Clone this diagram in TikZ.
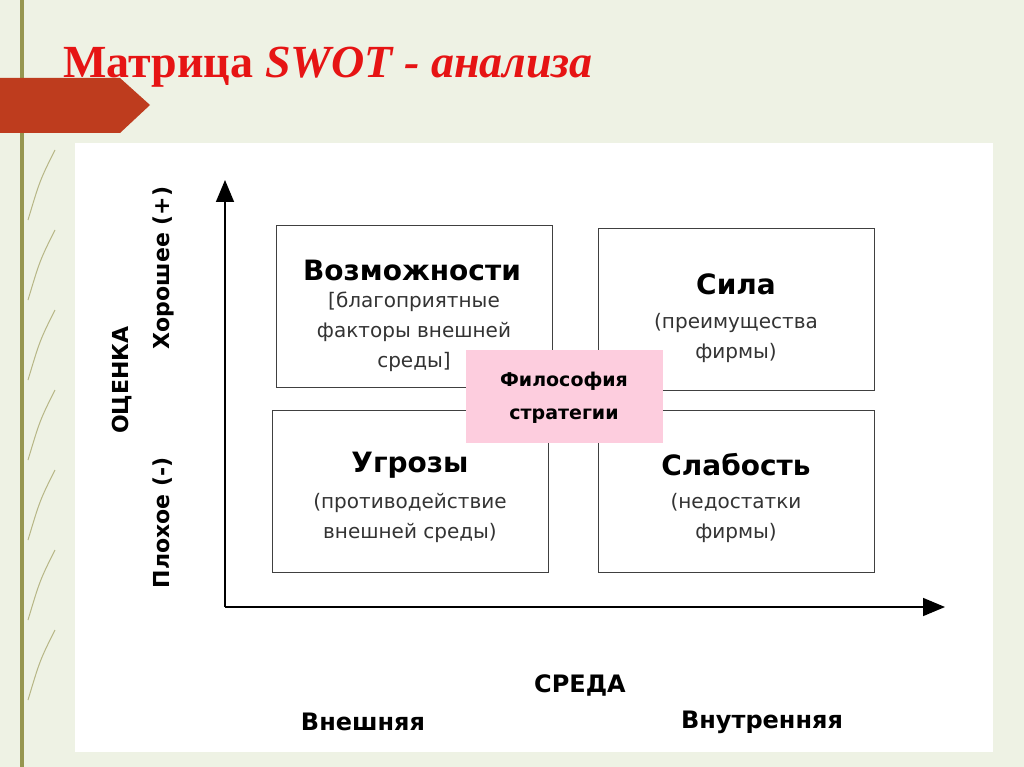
\documentclass[tikz,border=0pt]{standalone}
\usepackage{fontspec}
\setmainfont{DejaVu Sans}
\newfontfamily\titlefont{Liberation Serif}
\usetikzlibrary{arrows.meta}
\definecolor{bgpale}{RGB}{238,242,228}
\definecolor{titlered}{RGB}{230,20,20}
\definecolor{tabred}{RGB}{190,60,30}
\definecolor{olive}{RGB}{150,150,80}
\definecolor{pinkbox}{RGB}{253,205,222}
\tikzset{
  field/.style={draw=black!75, line width=1pt, fill=white},
  head/.style={font=\bfseries\fontsize{28}{30}\selectfont},
  body/.style={font=\fontsize{20}{30}\selectfont, align=center, text=black!80},
  axis/.style={line width=1.6pt, -{Triangle[length=22pt,width=18pt]}},
  side/.style={font=\bfseries\fontsize{22}{24}\selectfont, rotate=90},
  bottom/.style={font=\bfseries\fontsize{24}{26}\selectfont}
}
\begin{document}
\begin{tikzpicture}[x=1pt,y=-1pt]
  \useasboundingbox (0,0) rectangle (1024,767);
  \fill[bgpale] (0,0) rectangle (1024,767);
  % left decoration
  \fill[olive] (20,0) rectangle (24,767);
  \fill[tabred] (0,78) -- (120,78) -- (150,105) -- (120,133) -- (0,133) -- cycle;
  \foreach \y in {180,260,340,420,500,580,660}
    \draw[olive!70, line width=1pt] (28,\y+40) .. controls (40,\y) .. (55,\y-30);
  \node[anchor=west, text=titlered, font=\titlefont\bfseries\fontsize{46}{50}\selectfont] (title) at (60,67)
    {Матрица \textit{SWOT - анализа}};
  % panel
  \fill[white] (75,143) rectangle (993,752);
  % axes
  \coordinate (origin) at (225,607);
  \coordinate (ytop) at (225,180);
  \coordinate (xend) at (945,607);
  \draw[axis] (origin) -- (ytop);
  \draw[axis] (origin) -- (xend);
  % quadrants
  \draw[field] (276,226) rectangle (552,387);
  \draw[field] (598,229) rectangle (874,390);
  \draw[field] (272,410) rectangle (548,572);
  \draw[field] (598,410) rectangle (874,572);
  \node[head] (opp) at (412,270) {Возможности};
  \node[body] (opptxt) at (414,332) {[благоприятные\\факторы внешней\\среды]};
  \node[head] (str) at (736,284) {Сила};
  \node[body] (strtxt) at (736,338) {(преимущества\\фирмы)};
  \node[head] (thr) at (410,465) {Угрозы};
  \node[body] (thrtxt) at (410,518) {(противодействие\\внешней среды)};
  \node[head] (weak) at (736,465) {Слабость};
  \node[body] (weaktxt) at (736,518) {(недостатки\\фирмы)};
  \fill[pinkbox] (466,350) rectangle (663,443);
  \node[font=\bfseries\fontsize{19}{33}\selectfont, align=center] (phil) at (564,398) {Философия\\стратегии};
  % axis labels
  \node[side] (good) at (163,268) {Хорошее (+)};
  \node[side] (bad) at (163,523) {Плохое (-)};
  \node[side] (eval) at (122,380) {ОЦЕНКА};
  \node[bottom] (env) at (580,685) {СРЕДА};
  \node[bottom] (ext) at (363,722) {Внешняя};
  \node[bottom] (int) at (762,722) {Внутренняя};
\end{tikzpicture}
\end{document}
